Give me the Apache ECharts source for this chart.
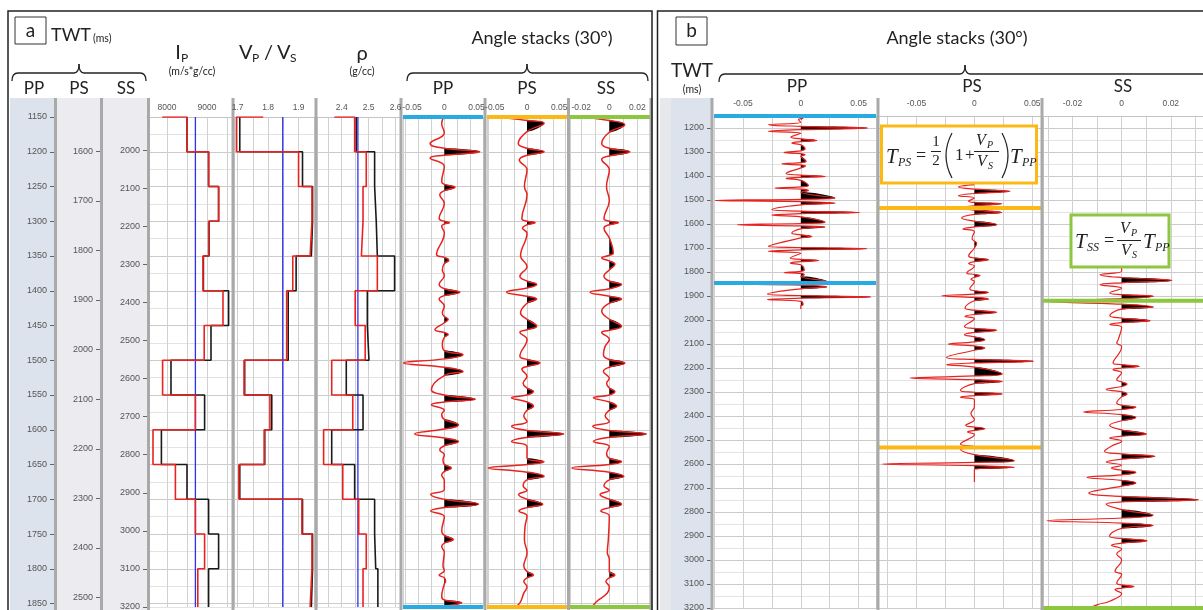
<!DOCTYPE html>
<html>
<head>
<meta charset="utf-8">
<title>Angle stacks (30°)</title>
<script src="https://cdn.jsdelivr.net/npm/echarts@6.0.0/dist/echarts.min.js"></script>
<style>
  html, body { margin: 0; padding: 0; background: #fff; }
  #chart { width: 1203px; height: 610px; }
</style>
</head>
<body>
<div id="chart"></div>
<script>
// ---------------------------------------------- well logs (panel a), PP time
// layer tops (ms), last value = base of the window
var layerTops = [1150, 1200, 1250, 1300, 1350, 1400, 1450, 1500, 1550, 1600, 1650, 1700, 1750, 1800, 1855];
var ipWell = [8500, 9040, 9290, 9050, 8910, 9540, 9100, 8100, 8940, 7860, 8500, 9040, 9290, 9040];
var ipInv = [8500, 9040, 9290, 9040, 8900, 9400, 8930, 7890, 8710, 7650, 8210, 8710, 8940, 8770];
var ipStart = 7880, ipModel = 8710;
var vpvsWell = [1.707, 1.913, 1.946, 1.942, 1.892, 1.866, 1.866, 1.723, 1.812, 1.789, 1.707, 1.913, 1.946, 1.942];
var vpvsInv = [1.696, 1.900, 1.944, 1.938, 1.881, 1.861, 1.861, 1.721, 1.806, 1.787, 1.704, 1.911, 1.944, 1.938];
var vpvsStart = 1.784, vpvsModel = 1.848;
var rhoWell = [2.454, 2.522, 2.528, 2.532, 2.596, 2.495, 2.501, 2.417, 2.479, 2.363, 2.448, 2.522, 2.526, 2.534];
var rhoInv = [2.448, 2.491, 2.479, 2.473, 2.532, 2.450, 2.487, 2.363, 2.441, 2.333, 2.404, 2.463, 2.491, 2.479];
var rhoStart = 2.373, rhoModel = 2.46;

// ---------------------------------------------- angle stack traces [time ms, amplitude]
// panel a: all three in PP time
var ppA = [[1149,0],[1159,-0.004],[1173,0],[1188,-0.022],[1195,0],[1200,0.055],[1205,0],[1209,-0.022],[1221,0],
  [1243,-0.004],[1247,0],[1251,0.0165],[1256,0],[1262,-0.007],[1274,0],
  [1296,-0.008],[1300,0],[1302,0.008],[1304,0],[1307,-0.004],[1317,0],
  [1348,-0.012],[1352,0],[1356,0.007],[1361,0],[1370,-0.003],[1378,0],
  [1391,-0.008],[1397,0],[1402,0.024],[1407,0],[1412,-0.008],[1422,0],
  [1432,-0.003],[1437,0],[1441,0.006],[1446,0],[1456,-0.0145],[1460,0],[1463,0.006],[1467,0],[1477,-0.003],[1486,0],
  [1492,0.029],[1498,0],[1504,-0.063],[1510,0],[1516,0.029],[1522,0],
  [1542,-0.02],[1550,0],[1556,0.048],[1560,0],[1564,-0.02],[1572,0],[1578,-0.004],[1585,0],
  [1593,0.022],[1599,0],[1606,-0.046],[1612,0],[1617,0.022],[1623,0],[1629,-0.007],[1636,0],
  [1643,-0.002],[1650,0],[1655,0.011],[1660,0],[1665,-0.004],[1673,0],
  [1686,0],[1693,-0.021],[1700,0],[1707,0.053],[1712,0],[1717,-0.021],[1725,0],
  [1746,-0.004],[1752,0],[1758,0.014],[1763,0],[1768,-0.004],[1776,0],
  [1796,-0.002],[1803,0],[1809,-0.008],[1813,0],[1818,0.002],[1822,0],
  [1840,-0.004],[1845,0],[1849,0.027],[1854,0],[1858,-0.01]];
var psA = [[1149,-0.06],[1155,0],[1159,0.0265],[1171,0],[1188,-0.0135],[1195,0],[1200,0.0265],[1205,0],[1212,-0.012],[1226,0],
  [1250,-0.004],[1262,0],[1296,-0.008],[1300,0],[1302,0.0125],[1305,0],[1310,-0.007],[1317,0],
  [1350,-0.01],[1365,0],[1379,-0.011],[1386,0],[1391,0.015],[1396,0],[1402,-0.0317],[1408,0],[1412,0.015],[1418,0],
  [1432,-0.01],[1441,0],[1451,0.015],[1456,0],[1460,-0.011],[1470,0],
  [1494,-0.011],[1499,0],[1504,0.02],[1509,0],[1513,-0.008],[1523,0],[1533,-0.006],[1540,0],
  [1545,0.01],[1550,0],[1554,-0.024],[1560,0],[1566,0.01],[1572,0],[1580,-0.005],[1588,0],
  [1595,-0.024],[1601,0],[1606,0.057],[1611,0],[1617,-0.024],[1624,0],
  [1641,0],[1646,0.0265],[1650,0],[1655,-0.06],[1661,0],[1667,0.0265],[1672,0],[1681,-0.006],[1687,0],
  [1693,-0.013],[1700,0],[1707,0.0244],[1712,0],[1717,-0.0125],[1724,0],
  [1739,-0.003],[1758,-0.004],[1777,0],[1796,-0.005],[1804,0],[1809,0.01],[1813,0],[1818,-0.005],[1826,0],
  [1835,-0.005],[1849,-0.011],[1857,-0.021]];
var ssA = [[1149,-0.026],[1155,0],[1161,0.011],[1172,0],[1188,-0.0054],[1195,0],[1200,0.0146],[1206,0],[1211,-0.0054],[1226,0],
  [1250,-0.002],[1270,0],[1296,-0.0038],[1300,0],[1302,0.0064],[1305,0],[1310,-0.0038],[1324,0],
  [1346,0.0028],[1349,0],[1353,-0.0054],[1357,0],[1362,0.004],[1370,0],
  [1379,-0.0038],[1386,0],[1391,0.0087],[1397,0],[1402,-0.0137],[1408,0],[1412,0.0087],[1418,0],
  [1429,-0.0054],[1441,0],[1451,0.0087],[1457,0],[1460,-0.0054],[1470,0],
  [1480,-0.003],[1492,-0.0042],[1499,0],[1504,0.0111],[1510,0],[1516,-0.0042],[1526,0],[1533,-0.0019],[1540,0],
  [1545,0.004],[1550,0],[1554,-0.0113],[1560,0],[1566,0.0052],[1572,0],[1580,-0.003],[1588,0],
  [1595,-0.0118],[1601,0],[1606,0.0264],[1611,0],[1617,-0.0113],[1624,0],[1634,-0.0019],[1641,0],
  [1646,0.0087],[1650,0],[1655,-0.0267],[1661,0],[1667,0.0104],[1672,0],[1681,-0.0038],[1687,0],
  [1693,-0.0066],[1700,0],[1707,0.0087],[1712,0],[1717,-0.006],[1724,0],
  [1758,-0.0007],[1777,-0.0014],[1786,0],[1804,0],[1809,0.004],[1813,0],[1818,-0.0024],[1826,0],
  [1835,-0.0014],[1847,-0.009],[1854,-0.012]];

// panel b: each stack in its own time
var ppB = [[1150,0],[1158,0.002],[1165,-0.002],[1176,0],[1186,-0.028],[1193,0],[1200,0.0576],[1207,0],[1214,-0.028],[1222,0],
  [1239,-0.0086],[1245,0],[1252,0.0138],[1257,0],[1263,-0.0078],[1270,0],
  [1288,0.0037],[1295,0],[1302,-0.0144],[1307,0],[1311,0.0037],[1318,0],
  [1339,0.0046],[1344,0],[1349,-0.0164],[1354,0],[1358,0.004],[1366,0],
  [1390,-0.0127],[1396,0],[1402,0.021],[1406,0],[1410,-0.0127],[1418,0],
  [1440,0.0066],[1445,0],[1450,-0.0222],[1455,0],[1460,0.0066],[1467,0],
  [1492,0.0297],[1497,0],[1502,-0.074],[1507,0],[1513,0.0297],[1520,0],
  [1540,-0.025],[1546,0],[1552,0.0507],[1557,0],[1563,-0.025],[1570,0],
  [1593,0.021],[1598,0],[1603,-0.0547],[1608,0],[1612,0.021],[1620,0],
  [1638,-0.0078],[1645,0],[1652,0.0095],[1658,0],
  [1693,-0.028],[1698,0],[1703,0.057],[1708,0],[1714,-0.028],[1722,0],
  [1742,-0.0092],[1747,0],[1752,0.0153],[1757,0],[1763,-0.0092],[1770,0],
  [1793,0.003],[1797,0],[1802,-0.0144],[1806,0],[1811,0.003],[1818,0],
  [1839,0.0225],[1845,0],[1850,-0.0567],[1855,0],[1862,0.0225],[1870,0],
  [1892,-0.0288],[1898,0],[1904,0.0605],[1909,0],[1915,-0.0288],[1922,0],
  [1935,0.002],[1942,0],[1954,0]];
var psB = [[1436,0],[1446,-0.0138],[1455,0],[1464,0.0308],[1473,0],[1482,-0.0138],[1492,0],
  [1505,-0.005],[1510,0],[1516,0.0236],[1524,0],[1533,-0.012],[1542,0],[1552,0.0236],[1560,0],
  [1575,-0.011],[1588,0],[1603,0.0193],[1612,0],[1621,-0.01],[1632,0],
  [1660,-0.002],[1672,0],[1680,0.002],[1700,0],
  [1733,-0.005],[1741,0],[1749,0.0121],[1757,0],[1765,-0.005],[1775,0],
  [1804,-0.0066],[1810,0],[1815,0.0049],[1822,0],[1830,-0.003],[1840,0],
  [1870,-0.004],[1878,0],[1885,0.0121],[1892,0],[1899,-0.0282],[1906,0],[1912,0.0121],[1920,0],
  [1950,-0.0081],[1959,0],[1968,0.0193],[1977,0],[1985,-0.0081],[1995,0],
  [2027,-0.0086],[2035,0],[2043,0.0193],[2052,0],[2061,-0.0086],[2070,0],
  [2082,0.009],[2091,0],[2100,-0.0225],[2108,0],[2117,0.009],[2126,0],
  [2156,-0.024],[2164,0],[2172,0.051],[2179,0],[2186,-0.024],[2196,0],
  [2225,0.024],[2233,0],[2242,-0.0555],[2249,0],[2256,0.024],[2265,0],
  [2294,-0.012],[2301,0],[2308,0.024],[2315,0],[2322,-0.012],[2332,0],
  [2360,0],[2390,-0.003],[2415,0],
  [2439,-0.0075],[2446,0],[2453,0.009],[2460,0],[2467,-0.006],[2477,0],
  [2517,-0.012],[2528,0],[2540,-0.012],[2561,0],
  [2586,0.0345],[2593,0],[2600,-0.0796],[2607,0],[2614,0.0345],[2622,0],[2675,0]];
var ssB = [[1783,0],[1797,0],[1811,-0.0088],[1823,0],[1835,0.0204],[1845,0],[1853,-0.0088],[1868,0],
  [1887,-0.0048],[1894,0],[1901,0.0129],[1911,0],[1922,-0.0313],[1934,0],[1946,0.0129],[1955,0],
  [1982,-0.0048],[1992,0],[2003,0.0116],[2011,0],[2019,-0.0048],[2030,0],
  [2082,-0.0014],[2096,-0.002],[2110,0],
  [2179,-0.0035],[2186,0],[2193,0.0072],[2200,0],[2207,-0.0035],[2220,0],
  [2249,-0.002],[2258,0],[2267,0.0022],[2277,0],[2290,-0.0063],[2299,0],[2308,0.0022],[2320,0],
  [2346,-0.002],[2355,0],[2364,0.0058],[2373,0],[2383,-0.0155],[2394,0],[2406,0.0058],[2420,0],
  [2439,-0.0049],[2458,0],[2475,0.01],[2484,0],[2492,-0.0049],[2505,0],
  [2526,-0.0042],[2547,-0.007],[2558,0],[2568,0.0136],[2580,0],[2592,-0.0063],[2605,0],
  [2617,-0.0042],[2626,0],[2635,0.0058],[2645,0],[2656,-0.0141],[2668,0],[2679,0.0058],[2692,0],
  [2721,-0.0134],[2735,0],[2749,0.0313],[2758,0],[2767,-0.0063],[2790,0],
  [2814,0.0128],[2825,0],[2836,-0.0304],[2846,0],[2856,0.0128],[2868,0],
  [2901,-0.0049],[2910,0],[2920,0.0104],[2930,0],[2939,-0.0042],[2955,0],
  [2975,-0.002],[3000,0],[3047,-0.0027],[3060,0],[3096,-0.002],[3104,0],[3110,0.005],[3117,0],[3124,-0.0027],[3140,0],
  [3172,-0.0049],[3186,-0.0098],[3200,-0.013]];

// analysis windows (ms)
var ppWinB = [1150, 1846], psWinB = [1533, 2531], ssWinB = [1920, 3200];

// ---------------------------------------------- tick labels
var ppTimeTicks = [1150, 1200, 1250, 1300, 1350, 1400, 1450, 1500, 1550, 1600, 1650, 1700, 1750, 1800, 1850];
var psTimeTicks = [1600, 1700, 1800, 1900, 2000, 2100, 2200, 2300, 2400, 2500];
var ssTimeTicks = [2000, 2100, 2200, 2300, 2400, 2500, 2600, 2700, 2800, 2900, 3000, 3100, 3200];
var bTimeTicks = [1200, 1300, 1400, 1500, 1600, 1700, 1800, 1900, 2000, 2100, 2200, 2300, 2400, 2500, 2600, 2700, 2800, 2900, 3000, 3100, 3200];
var ipTicks = [8000, 9000];
var vpvsTicks = [1.7, 1.8, 1.9];
var rhoTicks = [2.4, 2.5, 2.6];
var stackTicks = [-0.05, 0, 0.05];
var ssTicks = [-0.02, 0, 0.02];

!function () {
    var chart = echarts.init(document.getElementById('chart'));
    var FONT = 'Lato, "Noto Sans", "DejaVu Sans", sans-serif';
    var SERIF = '"Liberation Serif", "DejaVu Serif", serif';
    var BLUE = '#29abe2', ORANGE = '#fbb917', GREEN = '#8dc63f', RED = '#e8231f';

    var grids = [], xAxes = [], yAxes = [], labelAxes = [], series = [];

    function pick(ticks) {
        return function (v) {
            for (var i = 0; i < ticks.length; i++) {
                if (Math.abs(ticks[i] - v) < 1e-7) return String(ticks[i]);
            }
            return '';
        };
    }

    // ------------------------------------------ time scale columns
    function timeColumn(left, top, height, min, max, step, ticks) {
        var i = grids.length;
        grids.push({ left: left, top: top, width: 2, height: height, outerBoundsMode: 'none' });
        xAxes.push({ gridIndex: i, type: 'value', show: false });
        var y = {
            gridIndex: i, type: 'value', inverse: true, min: min, max: max,
            axisLine: { show: false },
            axisTick: { length: 5, customValues: ticks, lineStyle: { color: '#666' } },
            splitLine: { show: false },
            axisLabel: { margin: 8, fontSize: 9, color: '#555', fontFamily: 'Liberation Sans', formatter: pick(ticks) }
        };
        if (step.interval) y.interval = step.interval; else y.splitNumber = step.splitNumber;
        yAxes.push(y);
    }

    // ------------------------------------------ data tracks
    function track(left, width, top, height, tMin, tMax, tStep, hColors, x) {
        var i = grids.length;
        grids.push({ left: left, top: top, width: width, height: height, outerBoundsMode: 'none' });
        var xa = {
            gridIndex: i, type: 'value', position: 'top', min: x.min, max: x.max,
            axisLine: { show: true, lineStyle: { color: '#c4c4c4' } },
            axisTick: { show: false },
            axisLabel: { show: false },
            splitLine: { show: true, showMinLine: x.showMinLine !== false, lineStyle: { color: '#d0d0d0', width: 1 } }
        };
        if (x.interval) xa.interval = x.interval; else xa.splitNumber = x.splitNumber;
        xAxes.push(xa);
        // second top axis carries only the tick labels, drawn above the separators
        labelAxes.push({
            gridIndex: i, type: 'value', position: 'top', min: x.min, max: x.max, splitNumber: x.labelSplit, z: 12,
            axisLine: { show: false }, axisTick: { show: false }, splitLine: { show: false },
            axisLabel: { margin: x.margin, fontSize: 8.5, color: '#555', fontFamily: 'Liberation Sans', formatter: pick(x.ticks) }
        });
        yAxes.push({
            gridIndex: i, type: 'value', inverse: true, min: tMin, max: tMax, interval: tStep,
            axisLine: { show: false }, axisTick: { show: false }, axisLabel: { show: false },
            splitLine: { show: true, lineStyle: { color: hColors, width: 1 } }
        });
        return i;
    }

    function line(idx, data, color, width, z, smooth, clip) {
        return {
            type: 'line', xAxisIndex: idx, yAxisIndex: idx, data: data, symbol: 'none',
            smooth: smooth || false, z: z, silent: true, clip: clip !== false,
            lineStyle: { color: color, width: width }
        };
    }

    function steps(values, start) {
        var pts = [];
        if (start != null) pts.push([start, layerTops[0]]);
        for (var k = 0; k < values.length; k++) {
            pts.push([values[k], layerTops[k]]);
            pts.push([values[k], layerTops[k + 1]]);
        }
        return pts;
    }

    // positive lobes of a trace filled black
    function lobes(idx, trace) {
        var list = [], cur = null;
        for (var k = 0; k < trace.length; k++) {
            var p = trace[k];
            if (p[1] > 0) {
                if (!cur) { cur = [k > 0 ? trace[k - 1] : [p[0], 0]]; list.push(cur); }
                cur.push(p);
            } else if (cur) { cur.push(p); cur = null; }
        }
        return {
            type: 'custom', xAxisIndex: idx, yAxisIndex: idx, z: 3, silent: true,
            data: list.map(function (l) { return [l[1][1], l[1][0]]; }),
            renderItem: function (params, api) {
                var pts = list[params.dataIndex].map(function (q) {
                    return api.coord([Math.max(q[1], 0), q[0]]);
                });
                return {
                    type: 'polygon',
                    shape: { points: pts, smooth: 0.45, smoothConstraint: [pts[0], pts[0]] },
                    style: { fill: '#000' }
                };
            }
        };
    }

    function trace(idx, tr, width) {
        series.push(lobes(idx, tr));
        series.push(line(idx, tr.map(function (p) { return [p[1], p[0]]; }), RED, width, 4, 0.45));
    }

    function windowLine(idx, t, x0, x1, color) {
        series.push(line(idx, [[x0, t], [x1, t]], color, 4, 6, false, false));
    }

    // ------------------------------------------ panel a
    var aTop = 117, aH = 490, aMin = 1150, aMax = 1855;
    var aLines = ['#cbcbcb', '#e3e3e3'];
    timeColumn(55, aTop, aH, 1150, 1855, { interval: 50 }, ppTimeTicks);
    timeColumn(101, aTop, aH, 1531, 2519, { splitNumber: 10 }, psTimeTicks);
    timeColumn(148, aTop, aH, 1913, 3200, { splitNumber: 13 }, ssTimeTicks);

    var gIp = track(147, 85, aTop, aH, aMin, aMax, 25, aLines, { min: 7500, max: 9625, splitNumber: 4, labelSplit: 2, ticks: ipTicks, margin: 5 });
    var gVv = track(234, 81, aTop, aH, aMin, aMax, 25, aLines, { min: 1.688, max: 1.954, splitNumber: 5, labelSplit: 3, ticks: vpvsTicks, margin: 5 });
    var gRho = track(317, 83, aTop, aH, aMin, aMax, 25, aLines, { min: 2.3085, max: 2.616, splitNumber: 6, labelSplit: 3, ticks: rhoTicks, margin: 5 });
    var gPPa = track(403, 80, aTop, aH, aMin, aMax, 25, aLines, { min: -0.064, max: 0.06, splitNumber: 6, labelSplit: 2, ticks: stackTicks, margin: 5 });
    var gPSa = track(487, 80, aTop, aH, aMin, aMax, 25, aLines, { min: -0.062, max: 0.062, splitNumber: 6, labelSplit: 2, ticks: stackTicks, margin: 5 });
    var gSSa = track(570, 80, aTop, aH, aMin, aMax, 25, aLines, { min: -0.028, max: 0.029, splitNumber: 6, labelSplit: 3, ticks: ssTicks, margin: 5 });

    [[gIp, ipWell, ipInv, ipStart, ipModel], [gVv, vpvsWell, vpvsInv, vpvsStart, vpvsModel], [gRho, rhoWell, rhoInv, rhoStart, rhoModel]]
        .forEach(function (t) {
            series.push(line(t[0], [[t[4], aMin], [t[4], aMax]], '#2f2ff0', 1.3, 3));
            series.push(line(t[0], steps(t[1]), '#1a1a1a', 1.6, 4));
            series.push(line(t[0], steps(t[2], t[3]), RED, 1.6, 5));
        });

    trace(gPPa, ppA, 1.5);
    trace(gPSa, psA, 1.5);
    trace(gSSa, ssA, 1.5);
    windowLine(gPPa, aMin, -0.064, 0.06, BLUE); windowLine(gPPa, aMax, -0.064, 0.06, BLUE);
    windowLine(gPSa, aMin, -0.062, 0.062, ORANGE); windowLine(gPSa, aMax, -0.062, 0.062, ORANGE);
    windowLine(gSSa, aMin, -0.028, 0.029, GREEN); windowLine(gSSa, aMax, -0.028, 0.029, GREEN);

    // ------------------------------------------ panel b
    var bTop = 116, bH = 492, bMin = 1150, bMax = 3200;
    var bLines = ['#e3e3e3', '#cbcbcb'];
    timeColumn(712, bTop, bH, bMin, bMax, { splitNumber: 20 }, bTimeTicks);
    var gPPb = track(714, 162, bTop, bH, bMin, bMax, 50, bLines, { min: -0.075, max: 0.065, interval: 0.025, labelSplit: 3, ticks: stackTicks, margin: 8 });
    var gPSb = track(858.6, 182.4, bTop, bH, bMin, bMax, 50, bLines, { min: -0.1, max: 0.0575, interval: 0.025, labelSplit: 3, ticks: stackTicks, margin: 8, showMinLine: false });
    var gSSb = track(1043, 175, bTop, bH, bMin, bMax, 50, bLines, { min: -0.032, max: 0.0392, splitNumber: 7, labelSplit: 3, ticks: ssTicks, margin: 8 });

    trace(gPPb, ppB, 1.2);
    trace(gPSb, psB, 1.2);
    trace(gSSb, ssB, 1.2);
    windowLine(gPPb, ppWinB[0], -0.075, 0.065, BLUE); windowLine(gPPb, ppWinB[1], -0.075, 0.065, BLUE);
    windowLine(gPSb, psWinB[0], -0.0825, 0.0575, ORANGE); windowLine(gPSb, psWinB[1], -0.0825, 0.0575, ORANGE);
    windowLine(gSSb, ssWinB[0], -0.032, 0.0392, GREEN); windowLine(gSSb, ssWinB[1], -0.032, 0.0392, GREEN);

    // ------------------------------------------ decoration: frames, headers, braces, formulas
    var G = [];
    function rect(x, y, w, h, fill, z, stroke, lw) {
        G.push({ type: 'rect', z: z, silent: true, shape: { x: x, y: y, width: w, height: h },
            style: { fill: fill || 'none', stroke: stroke || 'none', lineWidth: lw || 0 } });
    }
    function txt(x, y, s, font, align) {
        G.push({ type: 'text', x: x, y: y, z: 30, silent: true,
            style: { text: s, font: font, fill: '#222', textAlign: align || 'center', align: align || 'center',
                textVerticalAlign: 'middle', verticalAlign: 'middle' } });
    }
    function seg(x1, y1, x2, y2, color, lw, z) {
        G.push({ type: 'line', z: z || 30, silent: true, shape: { x1: x1, y1: y1, x2: x2, y2: y2 },
            style: { stroke: color, lineWidth: lw } });
    }
    function curl(x1, y1, cx, cy, x2, y2, lw) {
        G.push({ type: 'bezierCurve', z: 30, silent: true,
            shape: { x1: x1, y1: y1, x2: x2, y2: y2, cpx1: cx, cpy1: cy },
            style: { stroke: '#222', lineWidth: lw || 1.3, fill: 'none' } });
    }
    function brace(x0, x1, tip, y) {
        curl(x0, y + 8, x0, y, x0 + 6, y);
        seg(x0 + 6, y, tip - 5, y, '#222', 1.3);
        curl(tip - 5, y, tip, y, tip, y - 9);
        curl(tip, y - 9, tip, y, tip + 5, y);
        seg(tip + 5, y, x1 - 6, y, '#222', 1.3);
        curl(x1 - 6, y, x1, y, x1, y + 8);
    }
    function f(size, italic) { return (italic ? 'italic ' : '') + size + 'px ' + SERIF; }

    // column backgrounds and track separators
    rect(10, 98, 45, 520, '#dce3ed', -10);
    rect(57, 98, 44, 520, '#ececf0', -10);
    rect(103, 98, 44, 520, '#ececf0', -10);
    rect(660, 98, 12, 520, '#e7e8eb', -10);
    rect(671, 98, 41, 520, '#dce3ed', -10);
    [54, 100, 147, 231.5, 314.5, 399.5, 483.5, 567, 649.5, 710.5, 876.5, 1040.5].forEach(function (x) {
        rect(x, 98, 3, 520, '#a9a9a9', 8);
    });

    // frames
    rect(8, 11, 644, 640, null, 30, '#222', 1.5);
    rect(657.5, 11, 600, 640, null, 30, '#222', 1.5);

    // panel a header
    rect(15, 17, 31, 27, '#fff', 29, '#333', 1);
    txt(30.5, 30.5, 'a', '19px ' + FONT);
    txt(51, 35, 'TWT', '18px ' + FONT, 'left');
    txt(93, 39, '(ms)', '10.5px ' + FONT, 'left');
    brace(12, 146, 79, 73);
    txt(34, 89, 'PP', '17px ' + FONT); txt(79, 89, 'PS', '17px ' + FONT); txt(126, 89, 'SS', '17px ' + FONT);
    txt(178, 53, 'I', '20px ' + FONT); txt(181, 58, 'P', '12px ' + FONT, 'left');
    txt(192, 72, '(m/s*g/cc)', '10.5px ' + FONT);
    txt(239, 53, 'V', '20px ' + FONT, 'left'); txt(252, 58, 'P', '12px ' + FONT, 'left');
    txt(264, 53, '/', '20px ' + FONT, 'left');
    txt(277, 53, 'V', '20px ' + FONT, 'left'); txt(290, 58, 'S', '12px ' + FONT, 'left');
    txt(362, 54, 'ρ', '20px ' + FONT); txt(362, 72, '(g/cc)', '10.5px ' + FONT);
    txt(542, 38, 'Angle stacks (30°)', '18px ' + FONT);
    brace(407, 648, 527, 73);
    txt(443, 89, 'PP', '17px ' + FONT); txt(527, 89, 'PS', '17px ' + FONT); txt(606, 89, 'SS', '17px ' + FONT);

    // panel b header
    rect(676, 17, 31, 28, '#fff', 29, '#333', 1);
    txt(691.5, 31, 'b', '19px ' + FONT);
    txt(957, 38, 'Angle stacks (30°)', '18px ' + FONT);
    brace(719, 1225, 965, 74);
    txt(692, 71, 'TWT', '19px ' + FONT); txt(692, 90, '(ms)', '10.5px ' + FONT);
    txt(797, 87, 'PP', '17px ' + FONT); txt(972, 87, 'PS', '17px ' + FONT); txt(1123, 87, 'SS', '17px ' + FONT);

    // T_PS formula
    rect(881.5, 126, 155, 57, '#fff', 20, ORANGE, 3);
    txt(886, 157, 'T', f(21, true), 'left'); txt(898, 163, 'PS', f(12, true), 'left');
    txt(916, 156, '=', f(18), 'left');
    txt(936, 142, '1', f(15)); seg(931, 151.5, 941, 151.5, '#222', 1); txt(936, 161, '2', f(15));
    curl(952, 133, 940, 155.5, 952, 178, 1.2);
    txt(955, 156, '1', f(17), 'left'); txt(965, 156, '+', f(17), 'left');
    txt(976, 141, 'V', f(16, true), 'left'); txt(987, 145, 'P', f(10, true), 'left');
    seg(974, 151.5, 999, 151.5, '#222', 1);
    txt(977, 162, 'V', f(16, true), 'left'); txt(988, 166, 'S', f(10, true), 'left');
    curl(1002, 133, 1014, 155.5, 1002, 178, 1.2);
    txt(1010, 157, 'T', f(21, true), 'left'); txt(1022, 163, 'PP', f(12, true), 'left');

    // T_SS formula
    rect(1071, 215, 98, 52, '#fff', 20, GREEN, 3);
    txt(1075, 242, 'T', f(21, true), 'left'); txt(1087, 248, 'SS', f(12, true), 'left');
    txt(1104, 241, '=', f(18), 'left');
    txt(1120, 229, 'V', f(16, true), 'left'); txt(1131, 233, 'P', f(10, true), 'left');
    seg(1117, 240.5, 1141, 240.5, '#222', 1);
    txt(1121, 251, 'V', f(16, true), 'left'); txt(1132, 255, 'S', f(10, true), 'left');
    txt(1143, 242, 'T', f(21, true), 'left'); txt(1155, 248, 'PP', f(12, true), 'left');

    var option = {
        animation: false,
        backgroundColor: '#fff',
        grid: grids,
        xAxis: xAxes.concat(labelAxes),
        yAxis: yAxes,
        series: series,
        graphic: { elements: G }
    };
    chart.setOption(option);
}();
</script>
</body>
</html>
